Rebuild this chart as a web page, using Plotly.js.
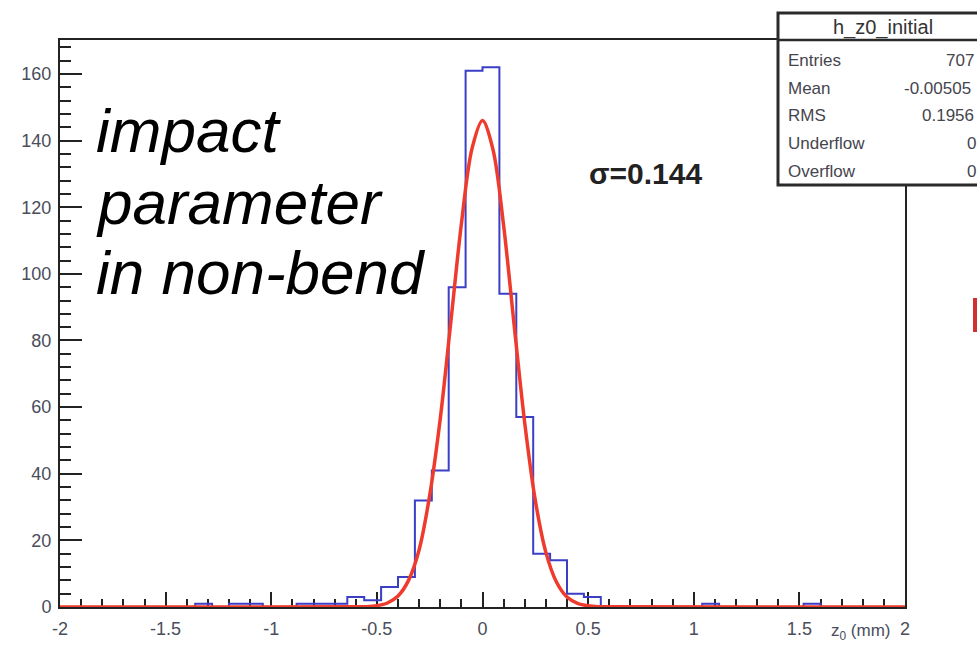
<!DOCTYPE html>
<html>
<head>
<meta charset="utf-8">
<script src="https://cdn.plot.ly/plotly-3.0.1.min.js"></script>
<style>
  html, body { margin: 0; padding: 0; background: #ffffff; }
  #chart { width: 977px; height: 645px; }
</style>
</head>
<body>
<div id="chart"></div>
<script>
// ---- Data ----
// Histogram h_z0_initial: 50 bins of width 0.08 between -2 and 2 (bin centers)
const binCenters = [
  -1.96, -1.88, -1.80, -1.72, -1.64, -1.56, -1.48, -1.40, -1.32, -1.24,
  -1.16, -1.08, -1.00, -0.92, -0.84, -0.76, -0.68, -0.60, -0.52, -0.44,
  -0.36, -0.28, -0.20, -0.12, -0.04,  0.04,  0.12,  0.20,  0.28,  0.36,
   0.44,  0.52,  0.60,  0.68,  0.76,  0.84,  0.92,  1.00,  1.08,  1.16,
   1.24,  1.32,  1.40,  1.48,  1.56,  1.64,  1.72,  1.80,  1.88,  1.96
];
const binCounts = [
  0, 0, 0, 0, 0, 0, 0, 0, 1, 0,
  1, 1, 0, 0, 1, 1, 1, 3, 2, 6,
  9, 32, 41, 96, 161, 162, 94, 57, 16, 14,
  4, 3, 0, 0, 0, 0, 0, 0, 1, 0,
  0, 0, 0, 0, 1, 0, 0, 0, 0, 0
];

// Gaussian fit curve
const fitX = [-2, -0.6, -0.55, -0.5, -0.45, -0.4, -0.35, -0.3, -0.25, -0.2, -0.15, -0.1, -0.05,
              0, 0.05, 0.1, 0.15, 0.2, 0.25, 0.3, 0.35, 0.4, 0.45, 0.5, 0.55, 0.6, 2];
const fitY = [0, 0.05, 0.1, 0.4, 1.2, 3.3, 8, 17.2, 33.5, 56.5, 85.5, 115, 137.5,
              146, 137.2, 114.5, 84.5, 55.2, 32, 16.4, 7.5, 3, 1.1, 0.35, 0.1, 0.05, 0];

// Tick labels
const xTickVals = [-2, -1.5, -1, -0.5, 0, 0.5, 1, 1.5, 2];
const xTickText = ["-2", "-1.5", "-1", "-0.5", "0", "0.5", "1", "1.5", "2"];
const yTickVals = [0, 20, 40, 60, 80, 100, 120, 140, 160];
const yTickText = ["0", "20", "40", "60", "80", "100", "120", "140", "160"];

const statLabels = ["Entries", "Mean", "RMS", "Underflow", "Overflow"];
const statValues = ["707", "-0.00505", "0.1956", "0", "0"];
const histName = "h_z0_initial";
const sigmaText = "σ=0.144";
const bigTextLines = ["impact", "parameter", "in non-bend"];
const xTitle = "z<sub>0</sub> (mm)";

// ---- Layout helpers (pixel -> paper) ----
const L = 60, R = 905, T = 40, B = 607;
const px = v => (v - L) / (R - L);
const py = v => (B - v) / (B - T);

const traces = [
  {
    type: "scatter", mode: "lines",
    x: binCenters, y: binCounts,
    line: { shape: "hvh", color: "#3a3fc6", width: 2 },
    hoverinfo: "skip", showlegend: false
  },
  {
    type: "scatter", mode: "lines",
    x: fitX, y: fitY,
    line: { shape: "spline", smoothing: 0.9, color: "#ef3b2d", width: 3.5 },
    hoverinfo: "skip", showlegend: false
  }
];

const axisCommon = {
  showline: true, linecolor: "#222", linewidth: 2, mirror: true,
  ticks: "inside", tickcolor: "#222", tickwidth: 2,
  showgrid: false, zeroline: false,
  tickfont: { family: "Liberation Sans, Arial, sans-serif", size: 18, color: "#4a4d5a" },
  layer: "below traces", fixedrange: true
};

const statFont = { family: "Liberation Sans, Arial, sans-serif", size: 17, color: "#45454e" };
const statRowsY = [60, 88, 115, 143, 171];
const valueStartX = [944, 902, 920, 965, 965];

const annotations = [];
// big italic text
const bigY = [130, 202, 272];
bigTextLines.forEach((t, i) => {
  annotations.push({
    xref: "paper", yref: "paper", x: px(94), y: py(bigY[i]),
    xanchor: "left", yanchor: "middle", showarrow: false, text: t,
    font: { family: "Liberation Sans, Arial, sans-serif", size: 62, color: "#000", style: "italic" }
  });
});
// sigma
annotations.push({
  xref: "paper", yref: "paper", x: px(645), y: py(173),
  xanchor: "center", yanchor: "middle", showarrow: false, text: "<b>" + sigmaText + "</b>",
  font: { family: "Liberation Sans, Arial, sans-serif", size: 30, color: "#222" }
});
// x title at the bottom-right corner
annotations.push({
  xref: "paper", yref: "paper", x: px(893), y: py(645),
  xanchor: "right", yanchor: "bottom", showarrow: false, text: xTitle,
  font: { family: "Liberation Sans, Arial, sans-serif", size: 17, color: "#4a4d5a" }
});
// stats box title
annotations.push({
  xref: "paper", yref: "paper", x: px(883), y: py(27),
  xanchor: "center", yanchor: "middle", showarrow: false, text: histName,
  font: { family: "Liberation Sans, Arial, sans-serif", size: 20, color: "#333" }
});
statLabels.forEach((t, i) => {
  annotations.push({
    xref: "paper", yref: "paper", x: px(786), y: py(statRowsY[i]),
    xanchor: "left", yanchor: "middle", showarrow: false, text: t, font: statFont
  });
  annotations.push({
    xref: "paper", yref: "paper", x: px(valueStartX[i]), y: py(statRowsY[i]),
    xanchor: "left", yanchor: "middle", showarrow: false, text: statValues[i], font: statFont
  });
});

const shapes = [
  // stats box
  { type: "rect", xref: "paper", yref: "paper", x0: px(778), x1: px(995), y0: py(185), y1: py(13),
    fillcolor: "#ffffff", line: { color: "#2a2a2a", width: 3 }, layer: "above" },
  { type: "line", xref: "paper", yref: "paper", x0: px(778), x1: px(995), y0: py(40), y1: py(40),
    line: { color: "#2a2a2a", width: 2.5 }, layer: "above" },
  // red item at the right edge
  { type: "rect", xref: "paper", yref: "paper", x0: px(973), x1: px(985), y0: py(332), y1: py(298),
    fillcolor: "#d22f2f", line: { width: 0 }, layer: "above" }
];

const layout = {
  width: 977, height: 645,
  margin: { l: L, r: 977 - R, t: T, b: 645 - B, pad: 0 },
  paper_bgcolor: "#ffffff", plot_bgcolor: "#ffffff",
  showlegend: false,
  xaxis: Object.assign({}, axisCommon, {
    range: [-2, 2], tickmode: "array", tickvals: xTickVals, ticktext: xTickText,
    ticklen: 15, ticklabelstandoff: 4,
    minor: { ticks: "inside", tick0: -2, dtick: 0.1, ticklen: 8, tickwidth: 2, tickcolor: "#222", showgrid: false }
  }),
  yaxis: Object.assign({}, axisCommon, {
    range: [0, 170.2], tickmode: "array", tickvals: yTickVals, ticktext: yTickText,
    ticklen: 22, ticklabelstandoff: 3,
    minor: { ticks: "inside", tick0: 0, dtick: 4, ticklen: 11, tickwidth: 2, tickcolor: "#222", showgrid: false }
  }),
  annotations: annotations,
  shapes: shapes
};

Plotly.newPlot("chart", traces, layout, { staticPlot: true, displayModeBar: false });
</script>
</body>
</html>
